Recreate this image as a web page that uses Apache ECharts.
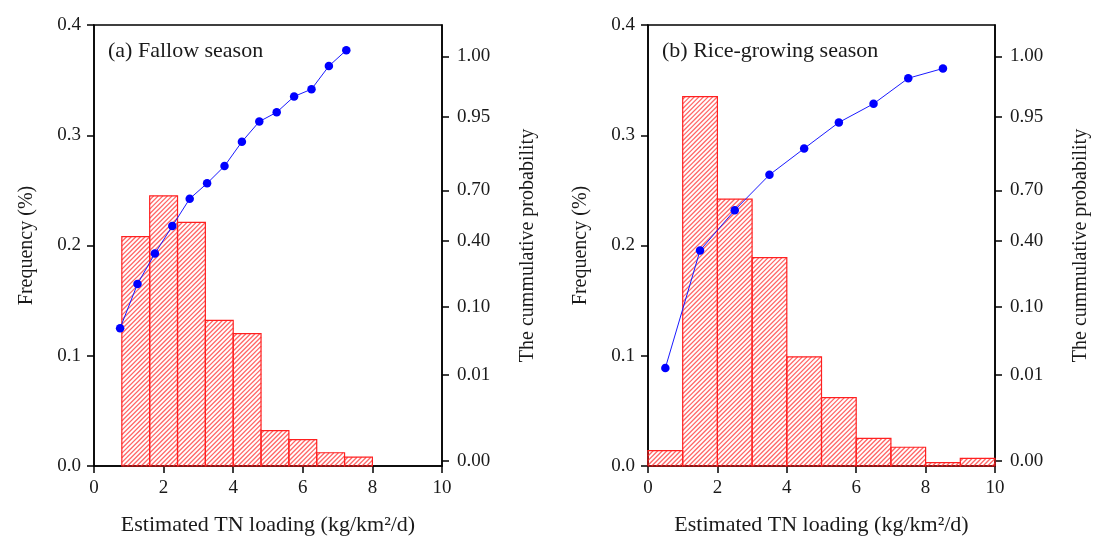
<!DOCTYPE html>
<html>
<head>
<meta charset="utf-8">
<script src="https://cdn.jsdelivr.net/npm/echarts@6/dist/echarts.min.js"></script>
<style>
  html, body { margin: 0; padding: 0; background: #fff; }
  #main { width: 1099px; height: 543px; }
</style>
</head>
<body>
<div id="main"></div>
<script>
// (a) fallow season: histogram bin edges + frequencies, cumulative points
var binsA = [0.8, 1.6, 2.4, 3.2, 4.0, 4.8, 5.6, 6.4, 7.2, 8.0];
var freqA = [0.208, 0.245, 0.221, 0.132, 0.120, 0.032, 0.024, 0.012, 0.008];
var cumXA = [0.75, 1.25, 1.75, 2.25, 2.75, 3.25, 3.75, 4.25, 4.75, 5.25, 5.75, 6.25, 6.75, 7.25];
var cumA  = [0.072, 0.205, 0.342, 0.487, 0.650, 0.724, 0.783, 0.866, 0.935, 0.954, 0.967, 0.973, 0.992, 1.005];

// (b) rice-growing season
var binsB = [0, 1, 2, 3, 4, 5, 6, 7, 8, 9, 10];
var freqB = [0.014, 0.335, 0.242, 0.189, 0.099, 0.062, 0.025, 0.017, 0.003, 0.007];
var cumXB = [0.5, 1.5, 2.5, 3.5, 4.5, 5.5, 6.5, 7.5, 8.5];
var cumB  = [0.019, 0.356, 0.582, 0.753, 0.843, 0.932, 0.961, 0.982, 0.990];

// probability scale of the right axis (label, value, place on a 0-100 axis)
var probLabels = ['0.00', '0.01', '0.10', '0.40', '0.70', '0.95', '1.00'];
var probValues = [0, 0.01, 0.10, 0.40, 0.70, 0.95, 1.00];
var probScale  = [1.1, 20.7, 36.0, 51.1, 62.5, 79.1, 92.9];

function probToAxis(p) {
  var i = 0;
  while (i < probValues.length - 2 && p > probValues[i + 1]) i++;
  var t = (p - probValues[i]) / (probValues[i + 1] - probValues[i]);
  return probScale[i] + t * (probScale[i + 1] - probScale[i]);
}

function histData(bins, freq) {
  var out = [];
  for (var i = 0; i < freq.length; i++) out.push([bins[i], bins[i + 1], freq[i]]);
  return out;
}
function cumData(xs, ps) {
  return xs.map(function (x, i) { return [x, probToAxis(ps[i])]; });
}

var font = 'Liberation Serif';
var txt = '#1a1a1a';
var HATCH_STEP = 4.6;
var RED = '#ff2020';

// bar with /// hatching clipped to the rect
function renderHist(params, api) {
  var p0 = api.coord([api.value(0), api.value(2)]);
  var p1 = api.coord([api.value(1), 0]);
  var x0 = p0[0], y0 = p0[1], x1 = p1[0], y1 = p1[1];
  var kids = [];
  var cStart = Math.ceil((x0 + y0) / HATCH_STEP) * HATCH_STEP;
  for (var c = cStart; c < x1 + y1; c += HATCH_STEP) {
    var xa = Math.max(x0, c - y1), xb = Math.min(x1, c - y0);
    if (xb <= xa) continue;
    kids.push({
      type: 'line',
      shape: { x1: xa, y1: c - xa, x2: xb, y2: c - xb },
      style: { stroke: 'rgba(255,50,50,0.75)', fill: null, lineWidth: 1.3 }
    });
  }
  kids.push({
    type: 'rect',
    shape: { x: x0, y: y0, width: x1 - x0, height: y1 - y0 },
    style: { fill: null, stroke: RED, lineWidth: 1.2 }
  });
  return { type: 'group', children: kids };
}

function xAxisCfg(grid) {
  return {
    type: 'value', gridIndex: grid, min: 0, max: 10, interval: 2,
    name: 'Estimated TN loading (kg/km\u00b2/d)', nameLocation: 'middle', nameGap: 48,
    nameTextStyle: { fontFamily: font, fontSize: 22, color: txt },
    axisLine: { lineStyle: { color: '#000', width: 1.5 } },
    axisTick: { inside: false, length: 7, lineStyle: { color: '#000', width: 1.5 } },
    axisLabel: { margin: 13, fontFamily: font, fontSize: 19, color: txt },
    splitLine: { show: false }
  };
}
function freqAxisCfg(grid) {
  return {
    type: 'value', gridIndex: grid, min: 0, max: 0.4, interval: 0.1, position: 'left',
    name: 'Frequency (%)', nameLocation: 'middle', nameGap: 57, nameRotate: 90,
    nameTextStyle: { fontFamily: font, fontSize: 20, color: txt },
    axisLine: { show: true, lineStyle: { color: '#000', width: 1.5 } },
    axisTick: { show: true, length: 7, lineStyle: { color: '#000', width: 1.5 } },
    axisLabel: { margin: 13, fontFamily: font, fontSize: 19, color: txt,
      formatter: function (v) { return v.toFixed(1); } },
    splitLine: { show: false }
  };
}
function probAxisCfg(grid) {
  return {
    type: 'value', gridIndex: grid, min: 0, max: 100, position: 'right',
    name: 'The cummulative probability', nameLocation: 'middle', nameGap: 76, nameRotate: 90,
    nameTextStyle: { fontFamily: font, fontSize: 20, color: txt },
    axisLine: { show: true, lineStyle: { color: '#000', width: 1.5 } },
    axisTick: { show: true, length: 7, customValues: probScale, lineStyle: { color: '#000', width: 1.5 } },
    axisLabel: { margin: 15, fontFamily: font, fontSize: 19, color: txt, customValues: probScale,
      formatter: function (v) {
        for (var i = 0; i < probScale.length; i++) if (Math.abs(probScale[i] - v) < 1e-6) return probLabels[i];
        return '';
      } },
    splitLine: { show: false }
  };
}

var chart = echarts.init(document.getElementById('main'));
chart.setOption({
  backgroundColor: '#fff',
  animation: false,
  color: [RED, '#0000ff'],
  title: [
    { text: '(a) Fallow season', left: 108, top: 40, padding: 0,
      textStyle: { fontFamily: font, fontSize: 22, fontWeight: 'normal', color: txt } },
    { text: '(b) Rice-growing season', left: 662, top: 40, padding: 0,
      textStyle: { fontFamily: font, fontSize: 22, fontWeight: 'normal', color: txt } }
  ],
  grid: [
    { left: 94, right: 657, top: 25, bottom: 77, show: true, borderColor: '#000', borderWidth: 1.5 },
    { left: 648, right: 104, top: 25, bottom: 77, show: true, borderColor: '#000', borderWidth: 1.5 }
  ],
  xAxis: [xAxisCfg(0), xAxisCfg(1)],
  yAxis: [freqAxisCfg(0), probAxisCfg(0), freqAxisCfg(1), probAxisCfg(1)],
  series: [
    { type: 'custom', xAxisIndex: 0, yAxisIndex: 0, renderItem: renderHist, itemStyle: { color: RED },
      encode: { x: [0, 1], y: 2 }, data: histData(binsA, freqA) },
    { type: 'line', xAxisIndex: 0, yAxisIndex: 1, data: cumData(cumXA, cumA), z: 5,
      symbol: 'circle', symbolSize: 8.5, itemStyle: { color: '#0000ff' }, lineStyle: { width: 1, color: '#1a1aff' } },
    { type: 'custom', xAxisIndex: 1, yAxisIndex: 2, renderItem: renderHist, itemStyle: { color: RED },
      encode: { x: [0, 1], y: 2 }, data: histData(binsB, freqB) },
    { type: 'line', xAxisIndex: 1, yAxisIndex: 3, data: cumData(cumXB, cumB), z: 5,
      symbol: 'circle', symbolSize: 8.5, itemStyle: { color: '#0000ff' }, lineStyle: { width: 1, color: '#1a1aff' } }
  ]
});
</script>
</body>
</html>
